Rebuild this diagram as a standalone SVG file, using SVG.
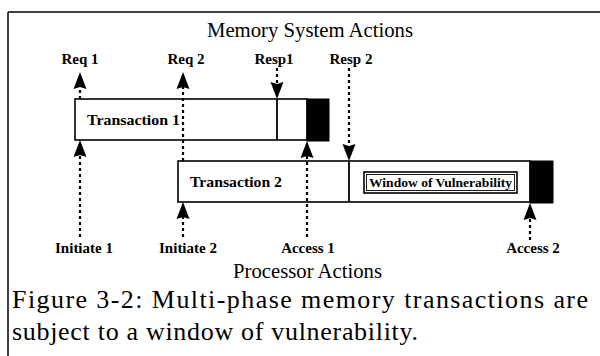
<svg xmlns="http://www.w3.org/2000/svg" width="600" height="356" viewBox="0 0 600 356">
<style>
text{font-family:'Liberation Serif','Times New Roman',Times,serif}
.frame{stroke:#000;stroke-width:1.5;fill:none}
.box{fill:#fff;stroke:#000;stroke-width:1.6}
.blk{fill:#000;stroke:#000;stroke-width:1}
.dash{stroke:#000;stroke-width:2.2;stroke-dasharray:3 3;fill:none}
.lbl{font-weight:bold;font-size:15px;text-anchor:middle;fill:#000}
.tx{font-weight:bold;font-size:15px;fill:#000}
.hdr{font-size:20px;fill:#000}
.cap{font-size:26px;fill:#000}
.ah{fill:#000}
</style>
<defs>
<path id="up" d="M0,0 L6.5,17 L0,15 L-6.5,17 z"/>
<path id="down" d="M0,0 L6.5,-17 L0,-15 L-6.5,-17 z"/>
</defs>
<rect width="600" height="356" fill="#fff"/>
<g id="frame">
<line class="frame" x1="8" y1="12" x2="600" y2="12"/>
<line class="frame" x1="8" y1="12" x2="8" y2="356"/>
</g>
<text class="hdr" x="207" y="37" textLength="206" lengthAdjust="spacingAndGlyphs">Memory System Actions</text>
<text class="hdr" x="233" y="278" textLength="149" lengthAdjust="spacingAndGlyphs">Processor Actions</text>
<g id="transaction1">
<rect class="box" x="75" y="99" width="232" height="41"/>
<line stroke="#000" stroke-width="1.8" x1="277" y1="99" x2="277" y2="140"/>
<rect class="blk" x="307" y="99" width="22" height="42"/>
<text class="tx" x="87" y="125" textLength="93" lengthAdjust="spacingAndGlyphs">Transaction 1</text>
</g>
<g id="transaction2">
<rect class="box" x="178" y="161" width="352" height="41"/>
<line stroke="#000" stroke-width="1.8" x1="349" y1="161" x2="349" y2="202"/>
<rect class="blk" x="530" y="161" width="23" height="42"/>
<text class="tx" x="190" y="187" textLength="92" lengthAdjust="spacingAndGlyphs">Transaction 2</text>
</g>
<g id="window">
<rect fill="#fff" stroke="#000" stroke-width="1.6" x="364" y="172" width="153" height="21"/>
<rect fill="none" stroke="#000" stroke-width="0.9" x="366.5" y="174.5" width="148" height="16"/>
<text class="tx" x="369" y="187" style="font-size:12.5px" textLength="143" lengthAdjust="spacingAndGlyphs">Window of Vulnerability</text>
</g>
<g id="connectors">
<line class="dash" x1="80" y1="99" x2="80" y2="86"/>
<use href="#up" class="ah" x="80" y="72"/>
<line class="dash" x1="183" y1="161" x2="183" y2="86"/>
<use href="#up" class="ah" x="183" y="72"/>
<line class="dash" x1="277" y1="68" x2="277" y2="86"/>
<use href="#down" class="ah" x="277" y="99"/>
<line class="dash" x1="349" y1="68" x2="349" y2="148"/>
<use href="#down" class="ah" x="349" y="161"/>
<line class="dash" x1="80" y1="237" x2="80" y2="154"/>
<use href="#up" class="ah" x="80" y="140"/>
<line class="dash" x1="183" y1="237" x2="183" y2="216"/>
<use href="#up" class="ah" x="183" y="202"/>
<line class="dash" x1="307" y1="237" x2="307" y2="155"/>
<use href="#up" class="ah" x="307" y="141"/>
<line class="dash" x1="530" y1="240" x2="530" y2="217"/>
<use href="#up" class="ah" x="530" y="203"/>
</g>
<g id="labels">
<text class="lbl" x="80" y="64">Req 1</text>
<text class="lbl" x="186" y="64">Req 2</text>
<text class="lbl" x="274" y="64">Resp1</text>
<text class="lbl" x="351" y="64">Resp 2</text>
<text class="lbl" x="84" y="253">Initiate 1</text>
<text class="lbl" x="188" y="253">Initiate 2</text>
<text class="lbl" x="308" y="253">Access 1</text>
<text class="lbl" x="533" y="253">Access 2</text>
</g>
<g id="caption">
<text class="cap" x="12" y="308" textLength="576" lengthAdjust="spacing">Figure 3-2: Multi-phase memory transactions are</text>
<text class="cap" x="12" y="340" textLength="406" lengthAdjust="spacing">subject to a window of vulnerability.</text>
</g>
</svg>
